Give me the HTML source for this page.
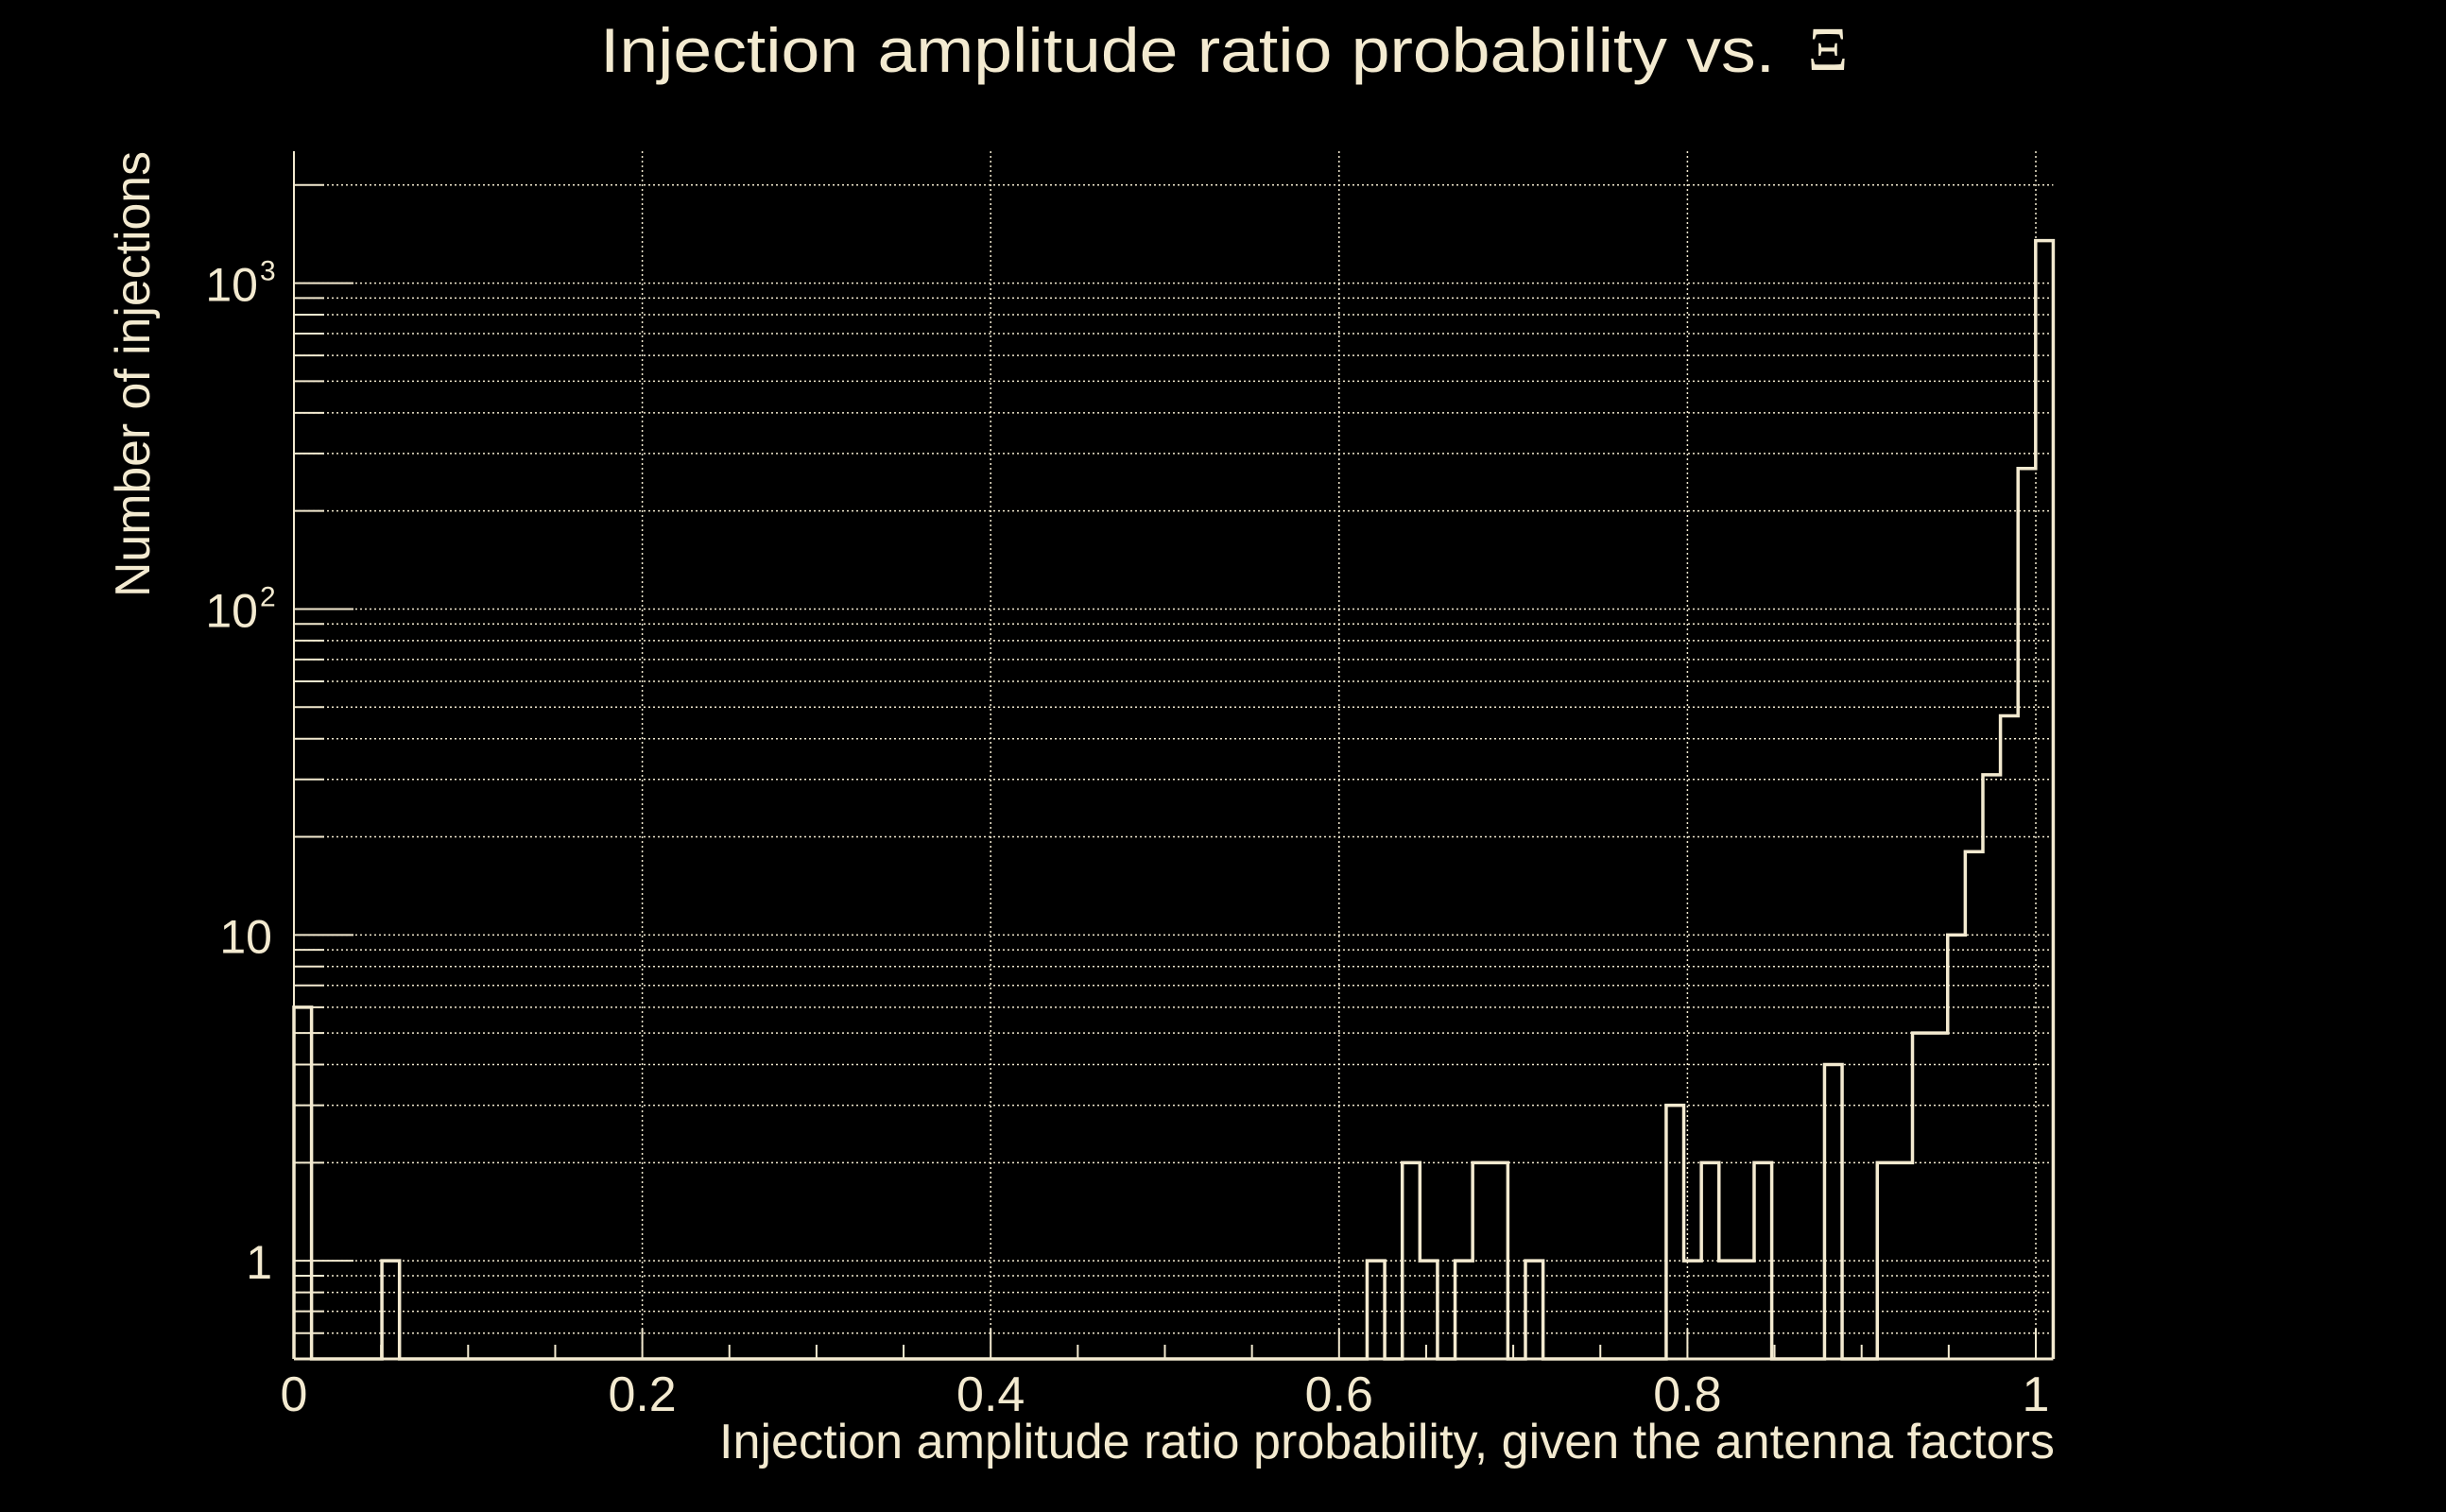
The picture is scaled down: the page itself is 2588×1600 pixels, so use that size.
<!DOCTYPE html>
<html><head><meta charset="utf-8"><style>
html,body{margin:0;padding:0;background:#000;}
svg{display:block;font-family:"Liberation Sans",sans-serif;}
</style></head><body>
<svg id="chart" width="2588" height="1600" viewBox="0 0 2588 1600">
<rect width="2588" height="1600" fill="#000"/>
<text x="635" y="76" font-size="66" fill="#f3ead0" textLength="1243" lengthAdjust="spacingAndGlyphs">Injection amplitude ratio probability vs.</text>
<text x="1934" y="74" font-size="66" fill="#f3ead0" text-anchor="middle" font-family="Liberation Serif, serif">Ξ</text>
<text x="2174" y="1543" font-size="52" fill="#f3ead0" text-anchor="end" textLength="1413" lengthAdjust="spacingAndGlyphs">Injection amplitude ratio probability, given the antenna factors</text>
<text transform="translate(158,396) rotate(-90)" font-size="52" fill="#f3ead0" text-anchor="middle" textLength="472" lengthAdjust="spacingAndGlyphs">Number of injections</text>
<g id="grid"></g><g id="ticks"></g><g id="labels"></g><g id="series"></g>
</svg>
<script>
const binWidth = 0.0101;
const counts = [6,0,0,0,0,1,0,0,0,0, 0,0,0,0,0,0,0,0,0,0, 0,0,0,0,0,0,0,0,0,0, 0,0,0,0,0,0,0,0,0,0, 0,0,0,0,0,0,0,0,0,0, 0,0,0,0,0,0,0,0,0,0,
 0,1,0,2,1,0,1,2,2,0, 1,0,0,0,0,0,0,0,3,1, 2,1,1,2,0,0,0,4,0,0, 2,2,5,5,10,18,31,47,270,1350];
const xTicks = [0,0.2,0.4,0.6,0.8,1];
const xTickLabels = ["0","0.2","0.4","0.6","0.8","1"];
const yDecades = [1,10,100,1000];
const yDecadeLabels = ["1","10","10","10"];
const yDecadeSup = ["","","2","3"];

const C="#f3ead0", NS="http://www.w3.org/2000/svg";
const X0=311, XS=1843, YB=1438, YT=160, yMin=0.5, yMax=2540;
const xs=v=>X0+v*XS;
const ys=v=>{v=Math.max(v,yMin);return YB-(Math.log10(v)-Math.log10(yMin))/(Math.log10(yMax)-Math.log10(yMin))*(YB-YT);};
const XR=xs(counts.length*binWidth);
function mk(tag,attrs,parent){const e=document.createElementNS(NS,tag);for(const k in attrs)e.setAttribute(k,attrs[k]);document.getElementById(parent).appendChild(e);return e;}

const yGridVals=[0.6,0.7,0.8,0.9];
for(let d=1;d<=1000;d*=10)for(let m=1;m<=9;m++){const v=d*m;if(v<=2000)yGridVals.push(v);}
yGridVals.forEach(v=>{
  const y=ys(v);
  const g=mk('line',{x1:X0,x2:XR,y1:y,y2:y,stroke:C,'stroke-width':1.5,'stroke-dasharray':'2 3'},'grid');
  
  
  const major=yDecades.includes(v);
  const t=mk('line',{x1:X0,x2:X0+(major?63:32),y1:y,y2:y,stroke:C,'stroke-width':2},'ticks');
  
  
});
xTicks.forEach(v=>{
  if(v===0)return;
  const g=mk('line',{x1:xs(v),x2:xs(v),y1:YT,y2:YB,stroke:C,'stroke-width':1.5,'stroke-dasharray':'2 3'},'grid');
  
  
});
for(let i=1;i<=20;i++){
  const v=i*0.05, x=xs(v);
  const t=mk('line',{x1:x,x2:x,y1:YB-((i%4===0)?32:15),y2:YB,stroke:C,'stroke-width':2},'ticks');
  
  
}
const ax=mk('line',{x1:X0,x2:X0,y1:YT,y2:YB,stroke:C,'stroke-width':2},'ticks');


const bx=mk('line',{x1:X0,x2:XR,y1:YB,y2:YB,stroke:C,'stroke-width':3},'ticks');


xTicks.forEach((v,i)=>{
  const t=mk('text',{x:xs(v),y:1493,'font-size':52,fill:C,'text-anchor':'middle'},'labels');
  t.textContent=xTickLabels[i];
  
  
});
yDecades.forEach((v,i)=>{
  const y=ys(v)+19;
  const t=mk('text',{x:yDecadeSup[i]?273:288,y:y,'font-size':50,fill:C,'text-anchor':'end'},'labels');
  t.textContent=yDecadeLabels[i];
  
  
  if(yDecadeSup[i]){
    const s=mk('text',{x:275,y:y-22,'font-size':30,fill:C},'labels');
    s.textContent=yDecadeSup[i];
    
    
  }
});
let d='M'+xs(0)+','+YB;
counts.forEach((c,i)=>{
  const y=c>0?ys(c):YB;
  d+=' L'+xs(i*binWidth)+','+y+' L'+xs((i+1)*binWidth)+','+y;
});
d+=' L'+XR+','+YB;
const p=mk('path',{d:d,fill:'none',stroke:C,'stroke-width':3.5,'stroke-linejoin':'miter'},'series');


</script>
</body></html>
